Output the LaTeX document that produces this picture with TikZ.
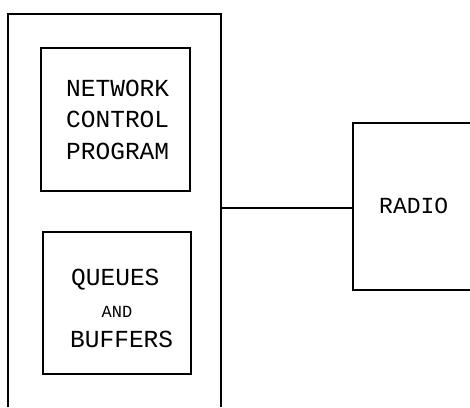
\documentclass[tikz,border=0pt]{standalone}
\usepackage{fontspec}
\setmonofont{Liberation Mono}
\begin{document}
\begin{tikzpicture}[x=1pt,y=-1pt,
  wire/.style={draw=black,line width=1.1pt},
  label/.style={font=\ttfamily\fontsize{24.5}{24.5}\selectfont,inner sep=0pt,anchor=west},
  small/.style={font=\ttfamily\fontsize{17}{17}\selectfont,inner sep=0pt}]
\useasboundingbox (0,0) rectangle (470,407);
% host enclosure (open at the lower page edge)
\coordinate (hostBL) at (8,407);
\coordinate (hostTL) at (8,14);
\coordinate (hostTR) at (221,14);
\coordinate (hostBR) at (221,407);
\coordinate (hostPort) at (221,208);
\draw[wire] (hostBL) -- (hostTL) -- (hostTR) -- (hostBR);
% inner boxes
\node[wire,rectangle,minimum width=149pt,minimum height=143pt,inner sep=0pt] (ncp) at (115.5,119.5) {};
\node[wire,rectangle,minimum width=148pt,minimum height=142pt,inner sep=0pt] (qb) at (117,303) {};
% labels of the network control program
\node[label] (t1) at (66,88) {NETWORK};
\node[label] (t2) at (66,119) {CONTROL};
\node[label] (t3) at (66,151) {PROGRAM};
% labels of the queues and buffers
\node[label] (t4) at (71,280) {QUEUES};
\node[small] (t5) at (117,312) {AND};
\node[label] (t6) at (70,339) {BUFFERS};
% radio, running off the right edge
\coordinate (radTR) at (470,123);
\coordinate (radTL) at (353,123);
\coordinate (radPort) at (353,208);
\coordinate (radBL) at (353,290);
\coordinate (radBR) at (470,290);
\draw[wire] (radTR) -- (radTL) -- (radBL) -- (radBR);
\node[label,font=\ttfamily\fontsize{23}{23}\selectfont] (radio) at (379,206) {RADIO};
% link between host and radio
\draw[wire] (hostPort) -- (radPort);
\end{tikzpicture}
\end{document}
